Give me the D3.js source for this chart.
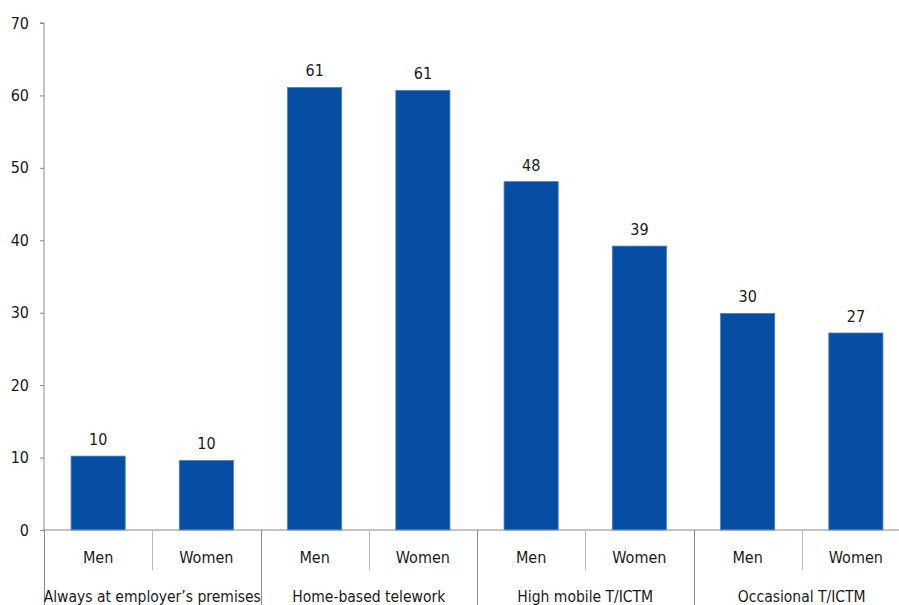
<!DOCTYPE html>
<html>
<head>
<meta charset="utf-8">
<script src="https://cdn.jsdelivr.net/npm/d3@7"></script>
<style>
  body { margin: 0; background: #fff; }
  text { font-family: "DejaVu Sans Condensed", "Liberation Sans Narrow", "Noto Sans", sans-serif; fill: #1a1a1a; }
</style>
</head>
<body>
<div id="chart"></div>
<script>
let groups = ["Always at employer\u2019s premises", "Home-based telework", "High mobile T/ICTM", "Occasional T/ICTM"]
let sexes = ["Men", "Women"]
let values = [10.2, 9.6, 61.1, 60.7, 48.1, 39.2, 29.9, 27.2]
let valueLabels = ["10", "10", "61", "61", "48", "39", "30", "27"]
let yTicks = [0, 10, 20, 30, 40, 50, 60, 70]

let width = 899
let height = 605
let plotLeft = 44
let plotRight = 910
let plotTop = 23
let plotBottom = 530

let svg = d3.select("#chart").append("svg")
    .attr("width", width)
    .attr("height", height)

let data = []
groups.forEach(function(g, gi){
    sexes.forEach(function(s, si){
        let i = gi * 2 + si
        data.push({key: g + "|" + s, group: g, sex: s, value: values[i], label: valueLabels[i]})
    })
})

let xScale = d3.scaleBand()
    .domain(data.map(d => d.key))
    .range([plotLeft, plotRight])
    .paddingInner(0.5)
    .paddingOuter(0.25)

let yScale = d3.scaleLinear()
    .domain([0, 70])
    .range([plotBottom, plotTop])

let step = xScale.step()

// y axis
let yAxis = d3.axisLeft(yScale).tickValues(yTicks).tickSize(4).tickPadding(11)
let yg = svg.append("g")
    .attr("transform", `translate(${plotLeft}, 0)`)
    .call(yAxis)
yg.select(".domain").attr("stroke", "#888").attr("d", `M-4,${plotTop}H0V${plotBottom}`)
yg.selectAll(".tick line").attr("stroke", "#888")
yg.selectAll(".tick text").attr("font-size", 16).attr("fill", "#1a1a1a")

// bars
svg.selectAll(".bar").data(data).enter()
    .append("rect")
    .attr("class", "bar")
    .attr("x", d => xScale(d.key))
    .attr("width", xScale.bandwidth())
    .attr("y", d => yScale(d.value))
    .attr("height", d => yScale(0) - yScale(d.value))
    .attr("fill", "#054ea3")
    .attr("stroke", "#4a7fc0")
    .attr("stroke-width", 0.8)

svg.selectAll(".vlabel").data(data).enter()
    .append("text")
    .attr("x", d => xScale(d.key) + xScale.bandwidth() / 2)
    .attr("y", d => yScale(d.value) - 11)
    .attr("text-anchor", "middle")
    .attr("font-size", 16)
    .text(d => d.label)

// x axis line
svg.append("line")
    .attr("x1", plotLeft).attr("x2", plotRight)
    .attr("y1", plotBottom).attr("y2", plotBottom)
    .attr("stroke", "#888")

// separators
data.forEach(function(d, i){
    let x = Math.round(plotLeft + i * step) + 0.5
    let long = i % 2 === 0
    svg.append("line")
        .attr("x1", x).attr("x2", x)
        .attr("y1", plotBottom).attr("y2", long ? height : 570)
        .attr("stroke", long ? "#888" : "#bbb")
})

// sex labels
svg.selectAll(".sex").data(data).enter()
    .append("text")
    .attr("x", d => xScale(d.key) + xScale.bandwidth() / 2)
    .attr("y", 563)
    .attr("text-anchor", "middle")
    .attr("font-size", 16)
    .text(d => d.sex)

// group labels
svg.selectAll(".grp").data(groups).enter()
    .append("text")
    .attr("x", (d, i) => plotLeft + step * (i * 2 + 1))
    .attr("y", 602)
    .attr("text-anchor", "middle")
    .attr("font-size", 15.5)
    .text(d => d)
</script>
</body>
</html>
